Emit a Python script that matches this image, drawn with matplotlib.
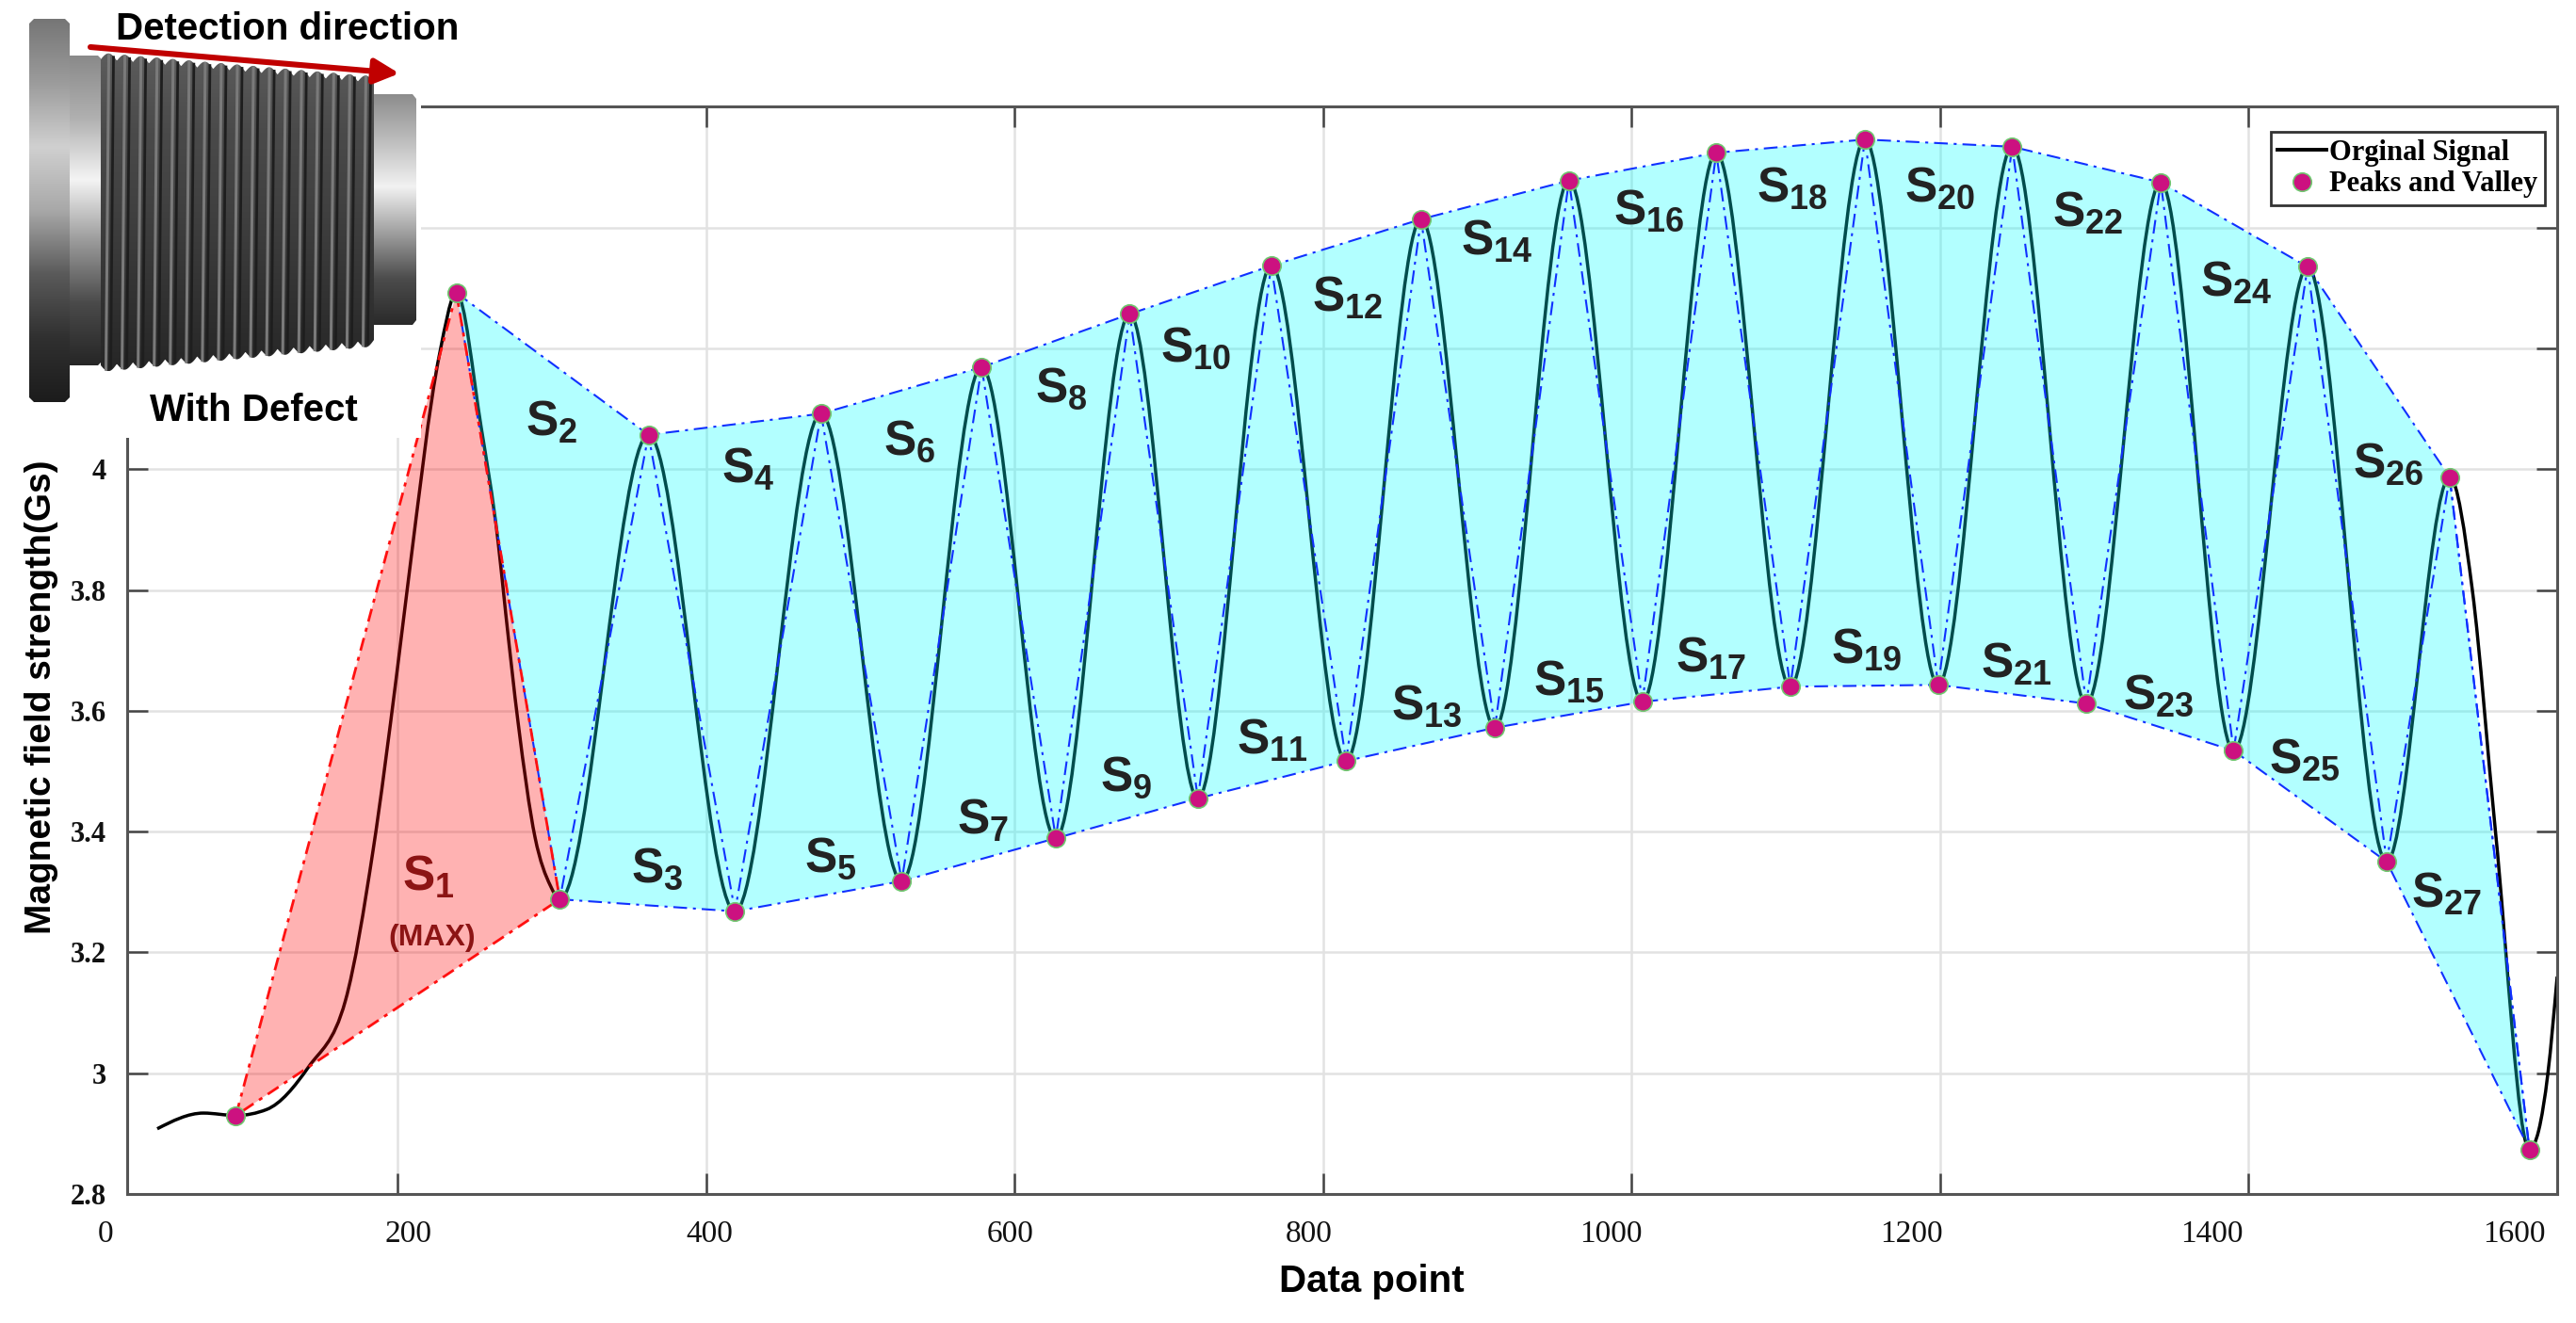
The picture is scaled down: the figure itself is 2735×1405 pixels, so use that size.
import numpy as np
import matplotlib
matplotlib.use('Agg')
import matplotlib.pyplot as plt
from matplotlib.path import Path
from matplotlib.patches import PathPatch, Polygon
from matplotlib.lines import Line2D
from matplotlib.colors import LinearSegmentedColormap
from matplotlib.transforms import ScaledTranslation

plt.rcParams['mathtext.fontset'] = 'custom'
plt.rcParams['mathtext.rm'] = 'Liberation Sans'
plt.rcParams['mathtext.bf'] = 'Liberation Sans:bold'

# peaks and valleys
valley_x = [95, 305, 418.6, 526.7, 626.6, 718.7, 814.8, 911.3, 1006.9, 1102.8,
            1198.7, 1294.7, 1390.2, 1489.5, 1582]
valley_y = [2.930, 3.288, 3.268, 3.318, 3.389, 3.455, 3.517, 3.572, 3.615, 3.640,
            3.643, 3.612, 3.534, 3.350, 2.874]
peak_x = [238, 362.5, 474.4, 578.5, 674.5, 766.3, 863.4, 959.3, 1054.8, 1151.2,
          1246.7, 1343, 1438.2, 1530.3]
peak_y = [4.292, 4.057, 4.092, 4.169, 4.257, 4.337, 4.414, 4.478, 4.524, 4.546,
          4.534, 4.475, 4.335, 3.987]

# extra points of the raw signal where it is not a plain swing
lead_x = [44, 74, 115, 142, 166, 184, 199, 207, 227, 254, 265, 270, 278, 289, 299]
lead_y = [2.908, 2.934, 2.940, 3.010, 3.120, 3.370, 3.655, 3.820, 4.190, 4.070,
          3.880, 3.760, 3.580, 3.390, 3.310]
tail_x = [1545, 1560, 1588, 1594, 1600]
tail_y = [3.800, 3.400, 2.905, 3.000, 3.160]

# label positions of the areas S1..S27
s_x = [220, 299.5, 368, 427, 480.8, 532, 579.4, 630.4, 672.4, 717.4, 766.7, 816,
       867.2, 912.6, 959.3, 1011, 1051.4, 1104, 1152.5, 1199.6, 1249.7, 1295.5,
       1341.8, 1392, 1436, 1490.6, 1528.5]
s_y = [3.325, 4.078, 3.338, 4.000, 3.356, 4.047, 3.418, 4.134, 3.489, 4.201, 3.551,
       4.284, 3.609, 4.377, 3.649, 4.429, 3.686, 4.466, 3.702, 4.466, 3.677, 4.423,
       3.625, 4.309, 3.520, 4.009, 3.296]

x_ticks = [24.5, 200, 400, 600, 800, 1000, 1200, 1400, 1600]
x_ticklabels = ['0', '200', '400', '600', '800', '1000', '1200', '1400', '1600']
y_ticks = [2.8, 3.0, 3.2, 3.4, 3.6, 3.8, 4.0, 4.2, 4.4, 4.6]
y_ticklabels = ['2.8', '3', '3.2', '3.4', '3.6', '3.8', '4', '4.2', '4.4', '4.6']

# alternating sequence valley, peak, valley, ...
ext_x, ext_y = [], []
for i in range(len(peak_x)):
    ext_x += [valley_x[i], peak_x[i]]
    ext_y += [valley_y[i], peak_y[i]]
ext_x.append(valley_x[-1])
ext_y.append(valley_y[-1])

knots = sorted(zip(lead_x + ext_x + tail_x, lead_y + ext_y + tail_y))
sig_x = np.array([k[0] for k in knots], dtype=float)
sig_y = np.array([k[1] for k in knots], dtype=float)


def smooth_path(xs, ys):
    # monotone cubic curve through the knots (flat at turning points)
    h = np.diff(xs)
    s = np.diff(ys) / h
    t = np.zeros(len(xs))
    for i in range(1, len(xs) - 1):
        s0, s1 = s[i - 1], s[i]
        p = (s0 * h[i] + s1 * h[i - 1]) / (h[i - 1] + h[i])
        t[i] = (np.sign(s0) + np.sign(s1)) * min(abs(s0), abs(s1), 0.5 * abs(p))
    t[0] = (3 * s[0] - t[1]) / 2
    t[-1] = (3 * s[-1] - t[-2]) / 2
    verts = [(xs[0], ys[0])]
    codes = [Path.MOVETO]
    for i in range(len(xs) - 1):
        d = h[i] / 3
        verts += [(xs[i] + d, ys[i] + d * t[i]),
                  (xs[i + 1] - d, ys[i + 1] - d * t[i + 1]),
                  (xs[i + 1], ys[i + 1])]
        codes += [Path.CURVE4] * 3
    return Path(verts, codes)


fig = plt.figure(figsize=(13.675, 7.025), dpi=200)
ax = fig.add_axes([0.04936, 0.09751, 0.94333, 0.82171])

# raw signal
ax.add_patch(PathPatch(smooth_path(sig_x, sig_y), facecolor='none',
                       edgecolor='black', lw=1.25, zorder=2))

# shaded areas
up_x = peak_x + [valley_x[-1]] + valley_x[-2:0:-1]
up_y = peak_y + [valley_y[-1]] + valley_y[-2:0:-1]
ax.fill(up_x, up_y, color='cyan', alpha=0.3, lw=0, zorder=3)
ax.fill([valley_x[0], peak_x[0], valley_x[1]], [valley_y[0], peak_y[0], valley_y[1]],
        color='red', alpha=0.3, lw=0, zorder=3)

dd = dict(lw=0.75, dashes=[7, 3, 1.5, 3], zorder=4)
ax.plot(ext_x[1:], ext_y[1:], color='#1030ff', **dd)
ax.plot(peak_x + [valley_x[-1]], peak_y + [valley_y[-1]], color='#1030ff', **dd)
ax.plot(valley_x[1:], valley_y[1:], color='#1030ff', **dd)
ax.plot([valley_x[0], peak_x[0], valley_x[1], valley_x[0]],
        [valley_y[0], peak_y[0], valley_y[1], valley_y[0]],
        color='#ff1010', lw=1.0, dashes=[5, 2.5, 1.5, 2.5], zorder=4)

ax.plot(ext_x, ext_y, 'o', ms=7, mfc='#cc1180', mec='#70c870', mew=0.6, zorder=5)

# area labels
for k in range(len(s_x)):
    lab = r'$\mathbf{S}_{\mathbf{%d}}$' % (k + 1)
    col = '#8c1414' if k == 0 else '#222222'
    ax.text(s_x[k], s_y[k], lab, fontsize=18.5, color=col, ha='center',
            va='center', zorder=6)
ax.text(222, 3.224, '(MAX)', fontsize=11.5, fontweight='bold', color='#8c1414',
        family='Liberation Sans', ha='center', va='center', zorder=6)

ax.set_xlim(24.5, 1600)
ax.set_ylim(2.8, 4.6)
ax.set_xticks(x_ticks)
ax.set_xticklabels(x_ticklabels, family='Liberation Serif', fontsize=12)
ax.set_yticks(y_ticks)
ax.set_yticklabels(y_ticklabels, family='Liberation Serif', fontsize=11,
                   fontweight='bold')
ax.tick_params(direction='in', length=8, width=0.9, color='#444444', top=True,
               right=True, labelcolor='#111111')
ax.tick_params(axis='x', pad=10)
ax.tick_params(axis='y', pad=8)
# the x labels sit a little off their ticks in the original
shift_px = [-23, 11, 3, -5, -15, -22, -31, -39, -46]
for lab, d in zip(ax.get_xticklabels(), shift_px):
    lab.set_transform(lab.get_transform() +
                      ScaledTranslation(d / 200, 0, fig.dpi_scale_trans))
ax.grid(True, color='#e2e2e2', lw=0.9)
ax.set_axisbelow(True)
for sp in ax.spines.values():
    sp.set_color('#555555')
    sp.set_linewidth(1.1)

ax.set_xlabel('Data point', family='Liberation Sans', fontsize=14.5,
              fontweight='bold')
ax.xaxis.set_label_coords(0.512, -0.064)
ax.set_ylabel('Magnetic field strength(Gs)', family='Liberation Sans',
              fontsize=14, fontweight='bold')
ax.yaxis.set_label_coords(-0.0283, 0.457)

handles = [Line2D([], [], color='black', lw=1.4),
           Line2D([], [], ls='none', marker='o', ms=7, mfc='#cc1180',
                  mec='#70c870', mew=0.6)]
ax.legend(handles, ['Orginal Signal', 'Peaks and Valley'], loc='upper right',
          bbox_to_anchor=(0.995, 0.977), prop=dict(family='Liberation Serif',
          weight='bold', size=11), frameon=True, fancybox=False,
          edgecolor='#333333', framealpha=1, borderpad=0.25, labelspacing=0.15,
          handlelength=1.7, handletextpad=0.1, borderaxespad=0)

# picture of the threaded part, top left
ai = fig.add_axes([0, 1 - 465 / 1405, 447 / 2735, 465 / 1405], zorder=10)
ai.set_facecolor('white')
ai.set_xticks([])
ai.set_yticks([])
for sp in ai.spines.values():
    sp.set_visible(False)


def shade(verts, colors, z):
    poly = Polygon(verts, closed=True, fc='none', ec='none')
    ai.add_patch(poly)
    xs = [v[0] for v in verts]
    ys = [v[1] for v in verts]
    cmap = LinearSegmentedColormap.from_list('m', colors)
    im = ai.imshow(np.linspace(0, 1, 256)[:, None], cmap=cmap, aspect='auto',
                   extent=(min(xs), max(xs), max(ys), min(ys)),
                   interpolation='bicubic', zorder=z)
    im.set_clip_path(poly)


metal = ['#767676', '#9c9c9c', '#d0d0d0', '#a8a8a8', '#5a5a5a', '#303030', '#1c1c1c']
shade([(31, 25), (36, 20), (69, 20), (74, 25), (74, 422), (69, 427), (36, 427),
       (31, 422)], metal, 1)
shade([(74, 59), (104, 59), (107, 62), (107, 385), (104, 388), (74, 388)],
      ['#8a8a8a', '#b0b0b0', '#f4f4f4', '#9a9a9a', '#4a4a4a', '#262626'], 1)
shade([(397, 100), (438, 100), (442, 105), (442, 340), (438, 345), (397, 345)],
      ['#8c8c8c', '#bdbdbd', '#f2f2f2', '#a0a0a0', '#4c4c4c', '#2a2a2a'], 1)

n_thr = 17
tx = np.linspace(107, 397, 400)
top = 63 + (tx - 107) * 25 / 290 - 7 * np.abs(np.sin(np.pi * (tx - 107) / 290 * n_thr))
bot = 388 - (tx - 107) * 27 / 290 + 7 * np.abs(np.sin(np.pi * (tx - 107) / 290 * n_thr))
body = list(zip(tx, top)) + list(zip(tx[::-1], bot[::-1]))
shade(body, ['#5c5c5c', '#4a4a4a', '#404040', '#333333', '#262626'], 2)
for i in range(n_thr):
    xr = 107 + (i + 0.5) * 290 / n_thr
    t0 = 63 + (xr - 107) * 25 / 290 - 5
    b0 = 388 - (xr - 107) * 27 / 290 + 5
    ai.plot([xr, xr - 3], [t0, b0], color='#7a7a7a', lw=1.1, zorder=3)
    ai.plot([xr + 5, xr + 2], [t0 + 2, b0 - 2], color='#1e1e1e', lw=1.0, zorder=3)

ai.annotate('', xy=(424, 78), xytext=(96, 50),
            arrowprops=dict(arrowstyle='-|>', color='#c00000', lw=2.2,
                            mutation_scale=20, shrinkA=0, shrinkB=0), zorder=4)
ai.text(305, 31, 'Detection direction', fontsize=14.5, fontweight='bold',
        family='Liberation Sans', ha='center', va='center', zorder=5)
ai.text(269, 436, 'With Defect', fontsize=14.5, fontweight='bold',
        family='Liberation Sans', ha='center', va='center', zorder=5)
ai.set_xlim(0, 447)
ai.set_ylim(465, 0)

fig.savefig('out.png', dpi=200)
